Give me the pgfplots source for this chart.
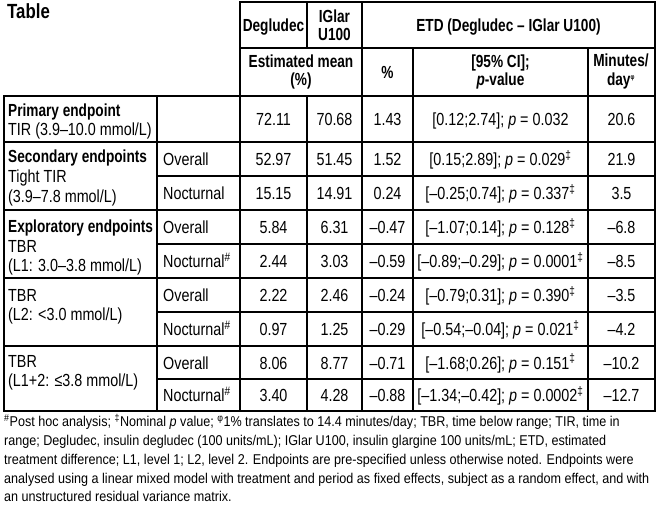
\documentclass[border=0pt]{standalone}
\usepackage{fontspec}
\setmainfont{Liberation Sans}[FakeStretch=0.82, Ligatures=TeX]
\newfontfamily\hb{Liberation Sans}[FakeStretch=0.78, Ligatures=TeX]
\newfontfamily\tb{Liberation Sans}[FakeStretch=0.82, Ligatures=TeX]
\newfontfamily\nf{Liberation Sans}[FakeStretch=0.887, Ligatures=TeX]
\usepackage{pgfplots}
\pgfplotsset{compat=1.18}
\newcommand{\bodyfont}{\fontsize{17.5}{20}\selectfont}
\newcommand{\headfont}{\hb\bfseries\fontsize{17.5}{20}\selectfont}
\newcommand{\notefont}{\nf\fontsize{14.2}{19}\selectfont}
\newcommand{\tc}[3]{\node[anchor=base,inner sep=0pt,font=\bodyfont] at (axis cs:#1,#2) {#3};}
\newcommand{\hc}[3]{\node[anchor=base,inner sep=0pt,font=\headfont] at (axis cs:#1,#2) {#3};}
\newcommand{\tl}[3]{\node[anchor=base west,inner sep=0pt,font=\bodyfont] at (axis cs:#1,#2) {#3};}
\newcommand{\tlb}[3]{\node[anchor=base west,inner sep=0pt,font=\headfont] at (axis cs:#1,#2) {#3};}
\newcommand{\fn}[2]{\node[anchor=base west,inner sep=0pt,font=\notefont] at (axis cs:4,#1) {#2};}
\newcommand{\seg}[4]{\addplot[black,line width=2.2pt,line cap=rect] coordinates {(#1,#2) (#3,#4)};}
\begin{document}
\begin{tikzpicture}
\begin{axis}[scale only axis, width=657pt, height=506pt,
  xmin=0, xmax=657, ymin=0, ymax=506, y dir=reverse,
  hide axis, clip=false]
% horizontal rules
\seg{240}{2}{655}{2}
\seg{240}{48}{655}{48}
\seg{4}{96}{655}{96}
\seg{4}{142}{655}{142}
\seg{157}{176}{655}{176}
\seg{4}{210}{655}{210}
\seg{157}{244}{655}{244}
\seg{4}{278}{655}{278}
\seg{157}{312}{655}{312}
\seg{4}{346}{655}{346}
\seg{157}{379}{655}{379}
\seg{4}{411}{655}{411}
% vertical rules
\seg{4}{96}{4}{411}
\seg{157}{96}{157}{411}
\seg{240}{2}{240}{411}
\seg{307}{2}{307}{48}
\seg{307}{96}{307}{411}
\seg{362}{2}{362}{411}
\seg{413}{48}{413}{411}
\seg{588}{48}{588}{411}
\seg{655}{2}{655}{411}
% title
\node[anchor=base west,inner sep=0pt,font=\tb\bfseries\fontsize{20.5}{22}\selectfont] at (axis cs:7,19) {Table};
% header
\hc{273.5}{31}{Degludec}
\hc{334.5}{22.5}{IGlar}
\hc{334.5}{40.5}{U100}
\hc{508.5}{31}{ETD (Degludec – IGlar U100)}
\hc{301}{67}{Estimated mean}
\hc{301}{85}{(\%)}
\hc{387.5}{78}{\%}
\hc{500.5}{67}{[95\% CI];}
\hc{500.5}{85}{\textit{p}-value}
\hc{621}{66}{Minutes/}
\hc{621}{85.5}{day\textsuperscript{\scriptsize φ}}
% left column
\tlb{8}{116}{Primary endpoint}
\tl{8}{135}{TIR (3.9–10.0 mmol/L)}
\tlb{8}{162}{Secondary endpoints}
\tl{8}{182.5}{Tight TIR}
\tl{8}{202}{(3.9–7.8 mmol/L)}
\tlb{8}{232}{Exploratory endpoints}
\tl{8}{252}{TBR}
\tl{8}{271}{(L1: 3.0–3.8 mmol/L)}
\tl{8}{301}{TBR}
\tl{8}{320}{(L2: <3.0 mmol/L)}
\tl{8}{367}{TBR}
\tl{8}{386}{(L1+2: ≤3.8 mmol/L)}
% second column
\tl{163}{165.5}{Overall}
\tl{163}{199.5}{Nocturnal}
\tl{163}{233.5}{Overall}
\tl{163}{267.5}{Nocturnal\textsuperscript{\#}}
\tl{163}{301.5}{Overall}
\tl{163}{335.5}{Nocturnal\textsuperscript{\#}}
\tl{163}{369}{Overall}
\tl{163}{401.5}{Nocturnal\textsuperscript{\#}}
% data rows
\tc{273.5}{125.5}{72.11}\tc{334.5}{125.5}{70.68}\tc{387.5}{125.5}{1.43}\tc{500.5}{125.5}{[0.12;2.74]; \textit{p} = 0.032}\tc{621.5}{125.5}{20.6}
\tc{273.5}{165.5}{52.97}\tc{334.5}{165.5}{51.45}\tc{387.5}{165.5}{1.52}\tc{500.5}{165.5}{[0.15;2.89]; \textit{p} = 0.029\textsuperscript{‡}}\tc{621.5}{165.5}{21.9}
\tc{273.5}{199.5}{15.15}\tc{334.5}{199.5}{14.91}\tc{387.5}{199.5}{0.24}\tc{500.5}{199.5}{[–0.25;0.74]; \textit{p} = 0.337\textsuperscript{‡}}\tc{621.5}{199.5}{3.5}
\tc{273.5}{233.5}{5.84}\tc{334.5}{233.5}{6.31}\tc{387.5}{233.5}{–0.47}\tc{500.5}{233.5}{[–1.07;0.14]; \textit{p} = 0.128\textsuperscript{‡}}\tc{621.5}{233.5}{–6.8}
\tc{273.5}{267.5}{2.44}\tc{334.5}{267.5}{3.03}\tc{387.5}{267.5}{–0.59}\tc{500.5}{267.5}{[–0.89;–0.29]; \textit{p} = 0.0001\textsuperscript{‡}}\tc{621.5}{267.5}{–8.5}
\tc{273.5}{301.5}{2.22}\tc{334.5}{301.5}{2.46}\tc{387.5}{301.5}{–0.24}\tc{500.5}{301.5}{[–0.79;0.31]; \textit{p} = 0.390\textsuperscript{‡}}\tc{621.5}{301.5}{–3.5}
\tc{273.5}{335.5}{0.97}\tc{334.5}{335.5}{1.25}\tc{387.5}{335.5}{–0.29}\tc{500.5}{335.5}{[–0.54;–0.04]; \textit{p} = 0.021\textsuperscript{‡}}\tc{621.5}{335.5}{–4.2}
\tc{273.5}{369}{8.06}\tc{334.5}{369}{8.77}\tc{387.5}{369}{–0.71}\tc{500.5}{369}{[–1.68;0.26]; \textit{p} = 0.151\textsuperscript{‡}}\tc{621.5}{369}{–10.2}
\tc{273.5}{401.5}{3.40}\tc{334.5}{401.5}{4.28}\tc{387.5}{401.5}{–0.88}\tc{500.5}{401.5}{[–1.34;–0.42]; \textit{p} = 0.0002\textsuperscript{‡}}\tc{621.5}{401.5}{–12.7}
% footnote
\fn{426.5}{\textsuperscript{\#}Post hoc analysis; \textsuperscript{‡}Nominal \textit{p} value; \textsuperscript{φ}1\% translates to 14.4 minutes/day; TBR, time below range; TIR, time in}
\fn{445.5}{range; Degludec, insulin degludec (100 units/mL); IGlar U100, insulin glargine 100 units/mL; ETD, estimated}
\fn{464.5}{treatment difference; L1, level 1; L2, level 2. Endpoints are pre-specified unless otherwise noted. Endpoints were}
\fn{483.5}{analysed using a linear mixed model with treatment and period as fixed effects, subject as a random effect, and with}
\fn{501.5}{an unstructured residual variance matrix.}
\end{axis}
\pgfresetboundingbox
\path[use as bounding box] (current axis.south west) rectangle (current axis.north east);
\end{tikzpicture}
\end{document}
